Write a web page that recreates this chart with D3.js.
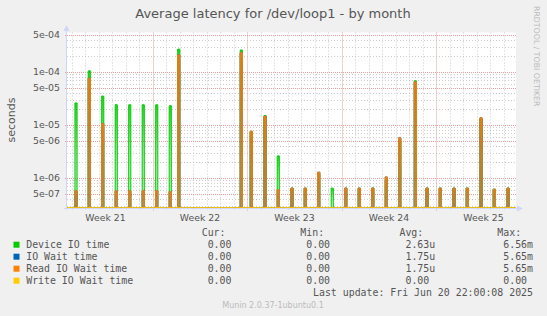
<!DOCTYPE html>
<html>
<head>
<meta charset="utf-8">
<script src="https://cdn.jsdelivr.net/npm/d3@7"></script>
<style>
  body { margin: 0; background: #f0f0f0; }
  svg { display: block; }
</style>
</head>
<body>
<svg id="chart" width="547" height="316"></svg>
<script>
// one entry per daily spike, local time
const spikeTimes = [
  "2025-05-20 07:40", "2025-05-21 07:12", "2025-05-22 07:12", "2025-05-23 07:12",
  "2025-05-24 07:12", "2025-05-25 07:12", "2025-05-26 07:12", "2025-05-27 07:12",
  "2025-05-27 22:20", "2025-06-01 13:26", "2025-06-02 07:12", "2025-06-03 07:40",
  "2025-06-04 07:12", "2025-06-05 07:40", "2025-06-06 07:12", "2025-06-07 07:12",
  "2025-06-08 07:12", "2025-06-09 07:12", "2025-06-10 07:12", "2025-06-11 07:12",
  "2025-06-12 07:12", "2025-06-13 07:12", "2025-06-14 10:48", "2025-06-15 07:40",
  "2025-06-16 07:12", "2025-06-17 07:40", "2025-06-18 07:12", "2025-06-19 07:40",
  "2025-06-20 07:12", "2025-06-21 07:40"
];
// seconds
const deviceIO = [
  2.6e-5, 1.05e-4, 3.5e-5, 2.4e-5, 2.4e-5, 2.4e-5, 2.4e-5, 2.3e-5,
  2.7e-4, 2.6e-4, 7.4e-6, 1.5e-5, 2.6e-6, 6.4e-7, 6.4e-7, 1.2e-6,
  6.4e-7, 6.4e-7, 6.4e-7, 6.4e-7, 9e-7, 5e-6, 6.8e-5, 6.4e-7,
  6.4e-7, 6.4e-7, 6.4e-7, 1.3e-5, 6.1e-7, 6.4e-7
];
const ioWait = [
  5.7e-7, 7.6e-5, 1.05e-5, 5.7e-7, 5.7e-7, 5.7e-7, 5.7e-7, 5.5e-7,
  2.1e-4, 2.3e-4, 7.6e-6, 1.45e-5, 6e-7, 6.4e-7, 6.4e-7, 1.28e-6,
  0, 6.4e-7, 6.4e-7, 6.4e-7, 1.04e-6, 5.7e-6, 6.5e-5, 6.4e-7,
  6.4e-7, 6.4e-7, 6.4e-7, 1.36e-5, 6.1e-7, 6.4e-7
];
const readWait = [
  5.7e-7, 7.6e-5, 1.05e-5, 5.7e-7, 5.7e-7, 5.7e-7, 5.7e-7, 5.5e-7,
  2.1e-4, 2.3e-4, 7.6e-6, 1.45e-5, 6e-7, 6.4e-7, 6.4e-7, 1.28e-6,
  0, 6.4e-7, 6.4e-7, 6.4e-7, 1.04e-6, 5.7e-6, 6.5e-5, 6.4e-7,
  6.4e-7, 6.4e-7, 6.4e-7, 1.36e-5, 6.1e-7, 6.4e-7
];
const writeWait = [
  0, 0, 0, 0, 0, 0, 0, 0, 0, 0, 0, 0, 0, 0, 0,
  0, 0, 0, 0, 0, 0, 0, 0, 0, 0, 0, 0, 0, 0, 0
];

const yTicks = [5e-4, 1e-4, 5e-5, 1e-5, 5e-6, 1e-6, 5e-7];
const yTickLabels = ["5e-04", "1e-04", "5e-05", "1e-05", "5e-06", "1e-06", "5e-07"];
const weekStarts = ["2025-05-19", "2025-05-26", "2025-06-02", "2025-06-09", "2025-06-16"];
const weekLabels = ["Week 21", "Week 22", "Week 23", "Week 24", "Week 25"];

const seriesNames = ["Device IO time", "IO Wait time", "Read IO Wait time", "Write IO Wait time"];
const seriesColors = ["#00cc00", "#0066b3", "#ff8000", "#ffcc00"];
const legendCur = ["0.00", "0.00", "0.00", "0.00"];
const legendMin = ["0.00", "0.00", "0.00", "0.00"];
const legendAvg = ["2.63u", "1.75u", "1.75u", "0.00"];
const legendMax = ["6.56m", "5.65m", "5.65m", "0.00"];

const parseTime = d3.timeParse("%Y-%m-%d %H:%M");
const parseDay = d3.timeParse("%Y-%m-%d");
const times = spikeTimes.map(parseTime);
const seriesValues = [deviceIO, ioWait, readWait, writeWait];

const svg = d3.select("#chart");
const pLeft = 67, pRight = 516, pTop = 32.5, pBottom = 208;
const yMin = 2.7e-7, yMax = 5.56e-4;

const x = d3.scaleTime()
  .domain([new Date(2025, 4, 19, 15, 39), new Date(2025, 5, 21, 21, 50)])
  .range([pLeft, pRight]);
const y = d3.scaleLog().domain([yMin, yMax]).range([pBottom, pTop]).clamp(true);
const yv = v => (v > 0 ? y(v) : pBottom);

// canvas
svg.append("rect").attr("x", pLeft).attr("y", pTop)
  .attr("width", pRight - pLeft).attr("height", pBottom - pTop).attr("fill", "#fff");

const defs = svg.append("defs");
defs.append("clipPath").attr("id", "plot")
  .append("rect").attr("x", pLeft).attr("y", pTop - 1)
  .attr("width", pRight - pLeft).attr("height", pBottom - pTop + 1);

const grid = svg.append("g");
const gridGray = "#cccccc", gridRed = "#eba0a0";

// minor horizontal grid (2,3,4,6,7,8,9 per decade)
const minorY = [];
for (let e = -7; e <= -3; e++) {
  for (const m of [2, 3, 4, 6, 7, 8, 9]) {
    const v = m * Math.pow(10, e);
    if (v > yMin && v < yMax) minorY.push(v);
  }
}
grid.selectAll(".hminor").data(minorY).join("line")
  .attr("x1", pLeft).attr("x2", pRight)
  .attr("y1", d => Math.round(y(d)) + 0.5).attr("y2", d => Math.round(y(d)) + 0.5)
  .attr("stroke", gridGray).attr("stroke-dasharray", "1,2");

// day lines, week starts in red
const days = d3.timeDay.range(x.domain()[0], x.domain()[1]);
const isWeek = d => d.getDay() === 1;
grid.selectAll(".vgrid").data(days.filter(d => !isWeek(d))).join("line")
  .attr("x1", d => Math.round(x(d)) + 0.5).attr("x2", d => Math.round(x(d)) + 0.5)
  .attr("y1", pTop).attr("y2", pBottom + 2)
  .attr("stroke", gridGray).attr("stroke-dasharray", "1,2");

grid.selectAll(".hmajor").data(yTicks).join("line")
  .attr("x1", pLeft - 2).attr("x2", pRight)
  .attr("y1", d => Math.round(y(d)) + 0.5).attr("y2", d => Math.round(y(d)) + 0.5)
  .attr("stroke", gridRed).attr("stroke-dasharray", "1,1");

grid.selectAll(".vmajor").data(days.filter(isWeek)).join("line")
  .attr("x1", d => Math.round(x(d)) + 0.5).attr("x2", d => Math.round(x(d)) + 0.5)
  .attr("y1", pTop).attr("y2", pBottom + 3)
  .attr("stroke", gridRed).attr("stroke-dasharray", "1,1");

// gradients for the spike fills
const fillStops = [[0.85, 0.4, 0.2], [0.6, 0.45, 0.4], [0.8, 0.45, 0.3], [0.8, 0.5, 0.3]];
seriesColors.forEach((c, i) => {
  const g = defs.append("linearGradient").attr("id", "grad" + i)
    .attr("x1", 0).attr("y1", 0).attr("x2", 0).attr("y2", 1);
  g.append("stop").attr("offset", 0).attr("stop-color", c).attr("stop-opacity", fillStops[i][0]);
  g.append("stop").attr("offset", 0.45).attr("stop-color", c).attr("stop-opacity", fillStops[i][1]);
  g.append("stop").attr("offset", 1).attr("stop-color", c).attr("stop-opacity", fillStops[i][2]);
});

// axes
const axisColor = "#cfd6f8";
svg.append("line").attr("x1", pLeft - 0.5).attr("x2", pLeft - 0.5)
  .attr("y1", pBottom + 2).attr("y2", 29).attr("stroke", axisColor);
svg.append("path").attr("d", d3.line()([[pLeft - 3.5, 31], [pLeft - 0.5, 25], [pLeft + 2.5, 31]]) + "Z")
  .attr("fill", axisColor);
svg.append("line").attr("x1", pLeft - 3).attr("x2", pRight + 3)
  .attr("y1", pBottom + 0.5).attr("y2", pBottom + 0.5).attr("stroke", axisColor);
svg.append("path").attr("d", d3.line()([[pRight + 1, pBottom - 2.5], [pRight + 7, pBottom + 0.5], [pRight + 1, pBottom + 3.5]]) + "Z")
  .attr("fill", axisColor);

// spikes
const halfWidth = 1.9 * 3600 * 1000;
const plot = svg.append("g").attr("clip-path", "url(#plot)");
const spikeLine = d3.line().x(d => d[0]).y(d => d[1]);
seriesValues.forEach((vals, si) => {
  // zero baseline for the whole period
  plot.append("path")
    .attr("d", spikeLine([[x(x.domain()[0]), yv(0)], ...times.map(t => [x(t), yv(0)]), [x(x.domain()[1]), yv(0)]]))
    .attr("fill", "none").attr("stroke", seriesColors[si])
    .attr("stroke-opacity", si === 3 ? 0.75 : 0.5).attr("transform", "translate(0,-0.5)");
  const g = plot.append("g");
  vals.forEach((v, i) => {
    if (!(v > 0)) return;
    const t = times[i];
    const pts = [
      [x(new Date(+t - halfWidth)), pBottom],
      [x(new Date(+t - halfWidth)), yv(v)],
      [x(new Date(+t + halfWidth)), yv(v)],
      [x(new Date(+t + halfWidth)), pBottom]
    ];
    g.append("path").attr("d", spikeLine(pts))
      .attr("fill", "url(#grad" + si + ")")
      .attr("stroke", seriesColors[si]).attr("stroke-width", 1);
  });
});

// labels
const font = "'DejaVu Sans', sans-serif";
const textColor = "#555";
svg.append("text").attr("x", 273).attr("y", 18).attr("text-anchor", "middle")
  .attr("font-family", font).attr("font-size", 13).attr("fill", textColor)
  .text("Average latency for /dev/loop1 - by month");

svg.selectAll(".ytick").data(yTicks).join("text")
  .attr("x", 60).attr("y", d => y(d)).attr("dy", "0.36em").attr("text-anchor", "end")
  .attr("font-family", font).attr("font-size", 9.4).attr("fill", textColor)
  .text((d, i) => yTickLabels[i]);

svg.append("text").attr("transform", "translate(15,120) rotate(-90)")
  .attr("text-anchor", "middle").attr("font-family", font).attr("font-size", 11)
  .attr("fill", textColor).text("seconds");

svg.selectAll(".week").data(weekStarts).join("text")
  .attr("x", d => x(d3.timeHour.offset(parseDay(d), 84))).attr("y", 220.7)
  .attr("text-anchor", "middle").attr("font-family", font).attr("font-size", 9.3)
  .attr("fill", textColor).text((d, i) => weekLabels[i]);

svg.append("text").attr("transform", "translate(534,6) rotate(90)")
  .attr("font-family", font).attr("font-size", 7.8).attr("fill", "#bbb")
  .text("RRDTOOL / TOBI OETIKER");

// legend
const mono = "'DejaVu Sans Mono', monospace";
const legFont = 9.9, charW = 0.602 * legFont;
const colEnds = [237.4, 336, 435.2, 533];
const colHeads = ["Cur:", "Min:", "Avg:", "Max:"];
const legend = svg.append("g").attr("font-family", mono).attr("font-size", legFont).attr("fill", textColor);
colHeads.forEach((h, c) => {
  legend.append("text").attr("x", colEnds[c] - 2 * charW).attr("y", 236.3)
    .attr("text-anchor", "end").text(h);
});
const cols = [legendCur, legendMin, legendAvg, legendMax];
seriesNames.forEach((name, i) => {
  const yc = 244.7 + i * 12;
  legend.append("rect").attr("x", 13.5).attr("y", yc - 3).attr("width", 6).attr("height", 6)
    .attr("fill", seriesColors[i]);
  legend.append("text").attr("x", 26.2).attr("y", yc + 3.6).text(name);
  cols.forEach((col, c) => {
    const s = col[i];
    const hasUnit = /[a-z]$/i.test(s);
    legend.append("text").attr("x", colEnds[c] - (hasUnit ? 0 : charW)).attr("y", yc + 3.6)
      .attr("text-anchor", "end").text(s);
  });
});
legend.append("text").attr("x", 533).attr("y", 296).attr("text-anchor", "end")
  .text("Last update: Fri Jun 20 22:00:08 2025");

svg.append("text").attr("x", 273).attr("y", 308.2).attr("text-anchor", "middle")
  .attr("font-family", font).attr("font-size", 8).attr("fill", "#bbb")
  .text("Munin 2.0.37-1ubuntu0.1");
</script>
</body>
</html>
